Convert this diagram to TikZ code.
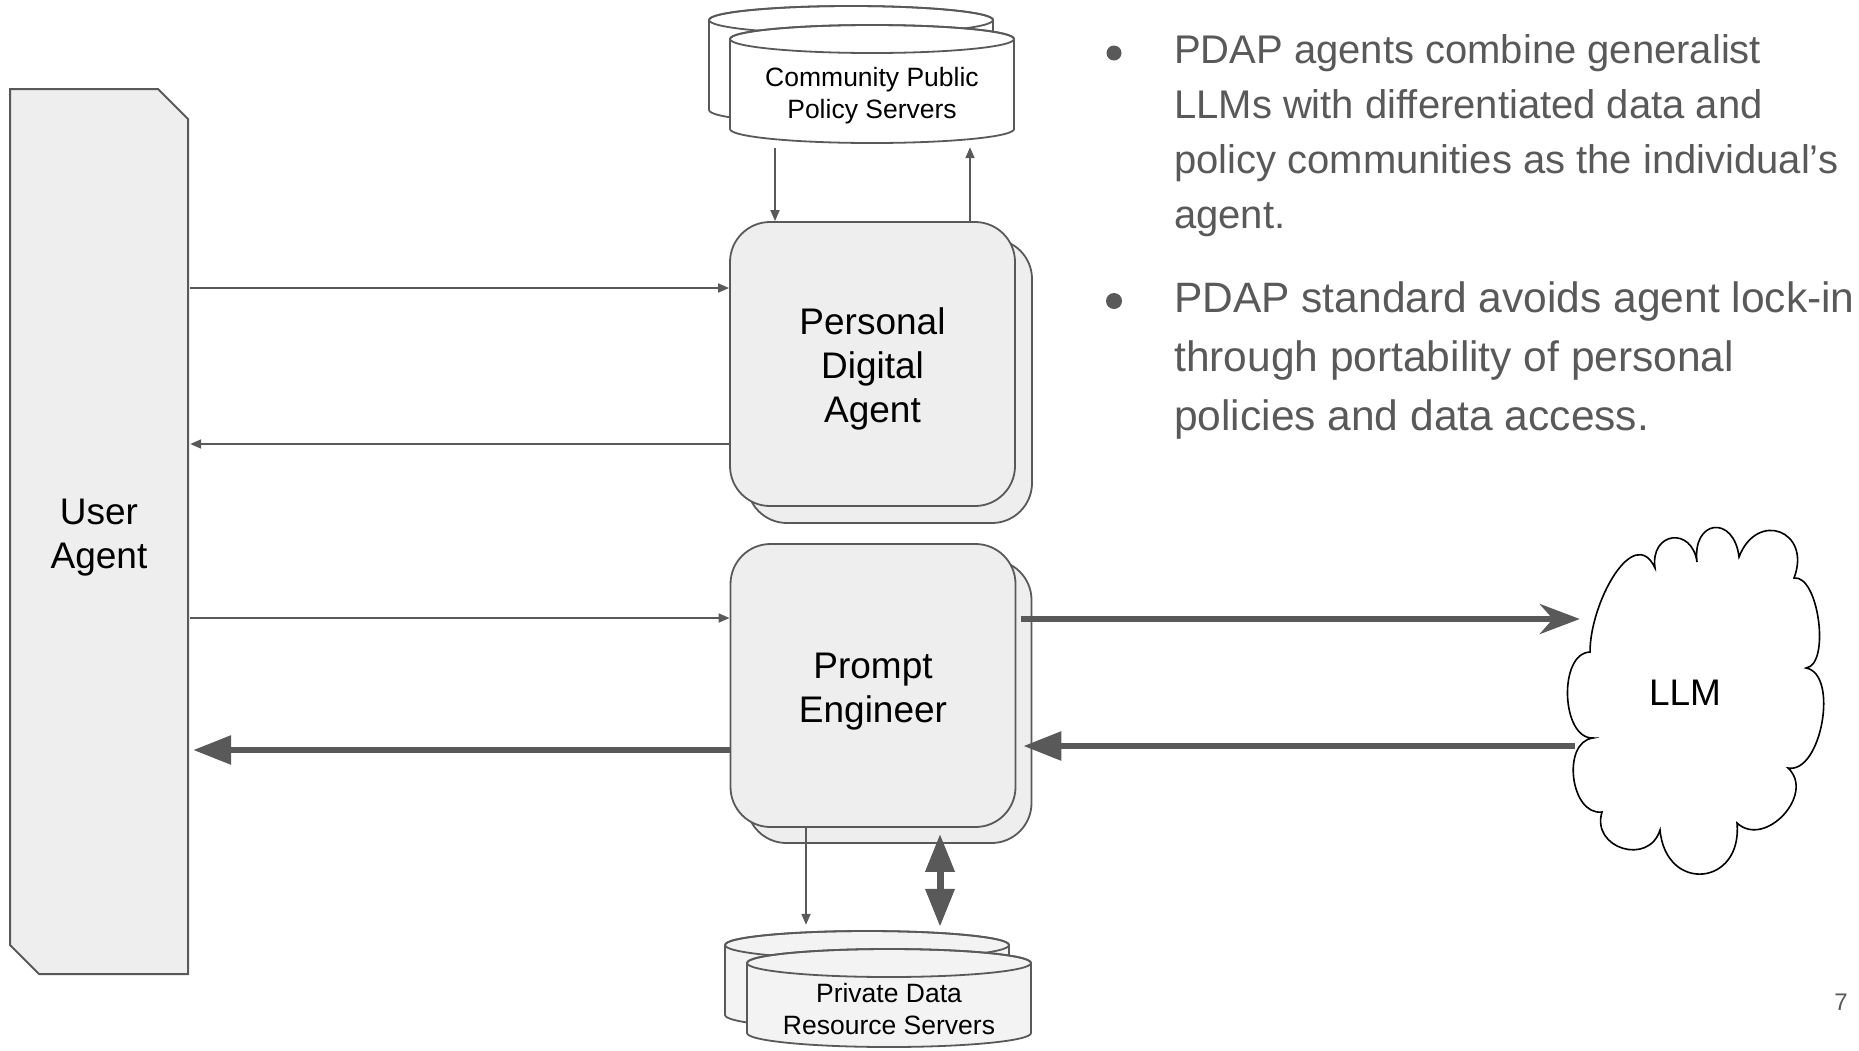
\documentclass[tikz,border=0pt]{standalone}
\usepackage{fontspec}
\setmainfont{Liberation Sans}
\usetikzlibrary{arrows.meta}
\definecolor{lineg}{HTML}{595959}
\definecolor{boxg}{HTML}{EEEEEE}
\definecolor{cylg}{HTML}{F3F3F3}
\newcommand\mycyl[5]{%
  \path[draw=lineg, line width=1.8pt, fill=#5] ({#1-#4},{-#2}) -- ({#1-#4},{-#3})
    arc[start angle=180,end angle=360,x radius=#4,y radius=14] -- ({#1+#4},{-#2})
    arc[start angle=0,end angle=180,x radius=#4,y radius=14] -- cycle;
  \draw[lineg, line width=1.8pt] (#1,{-#2}) ellipse[x radius=#4, y radius=14];
}
\begin{document}
\begin{tikzpicture}[x=1pt,y=1pt,
  rbox/.style={draw=lineg, line width=1.8pt, fill=boxg, rounded corners=40pt,
    minimum width=285pt, minimum height=284pt, inner sep=0pt},
  lbl/.style={align=center, font=\fontsize{37}{44}\selectfont, text=black, inner sep=0pt},
  small/.style={align=center, font=\fontsize{26.5}{32}\selectfont, text=black, inner sep=0pt},
  thinarr/.style={draw=lineg, line width=1.8pt, -{Triangle[length=11pt,width=9pt]}},
  thickarr/.style={draw=lineg, line width=6pt, -{Triangle[length=38pt,width=28pt]}},
  stealtharr/.style={draw=lineg, line width=6pt, -{Stealth[length=40pt,width=30pt,inset=13pt]}},
  dblarr/.style={draw=lineg, line width=7pt, {Triangle[length=38pt,width=28pt]}-{Triangle[length=38pt,width=28pt]}},
  bullettext/.style={anchor=base west, align=left, text=lineg, inner sep=0pt}
]
\useasboundingbox (0,0) rectangle (1859,-1050);

% User agent box
\path[draw=lineg, line width=2pt, fill=boxg] (10,-89) -- (158,-89) -- (188,-119) -- (188,-974) -- (39,-974) -- (10,-945) -- cycle;
\node[minimum width=178pt, minimum height=885pt, inner sep=0pt] (ua) at (99,-531.5) {};
\node[lbl] (uatext) at ([yshift=-6pt]ua.center) {User\\Agent};

% Community public policy servers
\mycyl{851}{20}{110}{142}{white}
\mycyl{872}{39}{129}{142}{white}
\node[small, minimum width=284pt, minimum height=100pt] (cps) at (872,-96) {Community Public\\Policy Servers};

% Private data resource servers
\mycyl{867}{945}{1015}{142}{cylg}
\mycyl{889}{963}{1033}{142}{cylg}
\node[small, minimum width=284pt, minimum height=164pt] (pds) at (889,-1009) {Private Data\\Resource Servers};

% Personal digital agent
\node[rbox] (pdab) at (889.5,-381) {};
\node[rbox] (pda) at (872.5,-364) {};
\node[lbl] (pdatext) at ([yshift=-5pt]pda.center) {Personal\\Digital\\Agent};

% Prompt engineer
\node[rbox, minimum height=283pt] (peb) at (889,-701.5) {};
\node[rbox, minimum height=283pt] (pe) at (873,-685.5) {};
\node[lbl] (petext) at ([yshift=-6pt]pe.center) {Prompt\\Engineer};

% LLM cloud
\draw[black, line width=1.6pt, fill=white]
  (1590,-652) to[out=90, in=115, looseness=1.2] (1655,-568)
  to[bend left=90, looseness=2.2] (1697,-562)
  to[bend left=90, looseness=2.6] (1739,-557)
  to[bend left=90, looseness=2.2] (1794,-578)
  to[bend left=90, looseness=0.7] (1806,-668)
  to[bend left=90, looseness=0.85] (1788,-768)
  to[bend left=90, looseness=1.3] (1737,-823)
  to[bend left=90, looseness=2.1] (1660,-830)
  to[bend left=90, looseness=1.6] (1602,-812)
  to[bend left=90, looseness=1.1] (1593,-738)
  to[bend left=90, looseness=0.95] (1590,-652) -- cycle;
\node[lbl, minimum width=240pt, minimum height=300pt] (llm) at (1685,-693) {LLM};

% connectors
\draw[thinarr] ([yshift=76pt]pda.west -| ua.east) ++(2,0) -- ([yshift=76pt]pda.west);
\draw[thinarr] ([yshift=-80pt]pda.west) -- ([yshift=-80pt,xshift=2pt]pda.west -| ua.east);
\draw[thinarr] ([yshift=67.5pt,xshift=2pt]pe.west -| ua.east) -- ([yshift=67.5pt]pe.west);
\draw[thickarr] ([yshift=-64.5pt]pe.west) -- ([yshift=-64.5pt,xshift=5pt]pe.west -| ua.east);
\draw[stealtharr] ([yshift=66.5pt,xshift=5pt]pe.east) -- ([yshift=66.5pt,xshift=15pt]pe.east -| llm.west);
\draw[thickarr] ([yshift=-60.5pt,xshift=10pt]pe.east -| llm.west) -- ([yshift=-60.5pt,xshift=7pt]pe.east);
\draw[thinarr] ([xshift=-97pt,yshift=-2pt]cps.south) -- ([xshift=-97.5pt]pda.north);
\draw[thinarr] ([xshift=97.5pt]pda.north) -- ([xshift=98pt,yshift=-1pt]cps.south);
\draw[thinarr] ([xshift=-67pt]pe.south) -- ([xshift=-83pt,yshift=2pt]pds.north);
\draw[dblarr] ([xshift=67pt,yshift=-6pt]pe.south) -- ([xshift=51pt]pds.north);

% bullets
\node[circle, fill=lineg, minimum size=15pt, inner sep=0pt] (b1) at (1114,-53) {};
\node[bullettext, font=\fontsize{40}{55}\selectfont] (t1) at (1174,-228)
  {PDAP agents combine generalist\\LLMs with differentiated data and\\policy communities as the individual’s\\agent.};
\node[circle, fill=lineg, minimum size=16pt, inner sep=0pt] (b2) at (1114,-301) {};
\node[bullettext, font=\fontsize{42.5}{59}\selectfont] (t2) at (1174,-430)
  {PDAP standard avoids agent lock-in\\through portability of personal\\policies and data access.};

% page number
\node[text=lineg, font=\fontsize{24}{28}\selectfont] (pg) at (1841,-1002) {7};
\end{tikzpicture}
\end{document}
